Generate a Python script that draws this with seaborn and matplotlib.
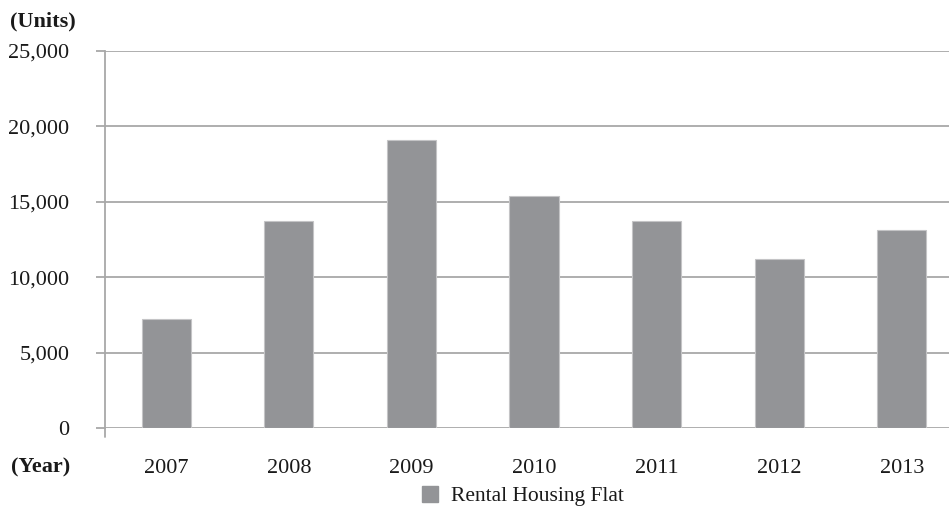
import matplotlib
matplotlib.use("Agg")
import matplotlib.pyplot as plt
from matplotlib.lines import Line2D
from matplotlib.patches import Patch
from matplotlib.ticker import FuncFormatter
from matplotlib.font_manager import FontProperties
import pandas as pd
import seaborn as sns

years = ["2007", "2008", "2009", "2010", "2011", "2012", "2013"]
units = [7200, 13700, 19100, 15400, 13700, 11200, 13100]
series_name = "Rental Housing Flat"
y_ticks = [0, 5000, 10000, 15000, 20000, 25000]

sns.set_theme(style="white")
plt.rcParams["font.family"] = ["Liberation Serif", "DejaVu Serif"]

bar_color = "#939497"
grid_color = "#a8a8a8"
text_color = "#1a1a1a"
fs = 16

df = pd.DataFrame({"Year": years, "Units": units})

fig = plt.figure(figsize=(9.49, 5.08), dpi=100)
W, H = 949, 508
ax = fig.add_axes([105 / W, 1 - 428 / H, (963 - 105) / W, (428 - 51) / H])

sns.barplot(data=df, x="Year", y="Units", color=bar_color, width=0.4,
            saturation=1, edgecolor="#c4c4c6", linewidth=0.8, ax=ax, zorder=3)

ax.set_ylim(0, 25000)
ax.set_xlim(-0.5, len(years) - 0.5)
ax.set_yticks(y_ticks)
ax.yaxis.set_major_formatter(FuncFormatter(lambda v, p: f"{int(v):,}"))
ax.grid(axis="y", color=grid_color, linewidth=1.3, zorder=0)
ax.set_axisbelow(True)

for s in ["top", "right", "bottom"]:
    ax.spines[s].set_visible(False)
ax.spines["left"].set_color(grid_color)
ax.spines["left"].set_linewidth(1.3)

ax.tick_params(axis="y", which="major", length=6.5, width=1.3, color=grid_color,
               direction="out", pad=19, labelsize=fs, labelcolor=text_color, left=True)
ax.tick_params(axis="x", length=0, pad=22.5, labelsize=fs, labelcolor=text_color)
ax.set_xlabel("")
ax.set_ylabel("")

# short extension of the value axis below zero
ax.add_line(Line2D([0, 0], [0, -8.5 / 377], transform=ax.transAxes,
                   color=grid_color, linewidth=1.3, clip_on=False))

fig.text(10 / W, 1 - 21 / H, "(Units)", fontsize=fs, fontweight="bold",
         ha="left", va="center", color=text_color)
fig.text(11 / W, 1 - 467 / H, "(Year)", fontsize=fs, fontweight="bold",
         ha="left", va="center", color=text_color)

handle = Patch(facecolor=bar_color, edgecolor=bar_color)
leg = fig.legend([handle], [series_name], loc="center", bbox_to_anchor=(523 / W, 1 - 496 / H),
                 frameon=False, prop=FontProperties(family="Liberation Serif", size=15.5),
                 handlelength=0.75, handleheight=0.75, handletextpad=0.6, borderpad=0)
for t in leg.get_texts():
    t.set_color(text_color)

fig.savefig("out.png", dpi=100)
